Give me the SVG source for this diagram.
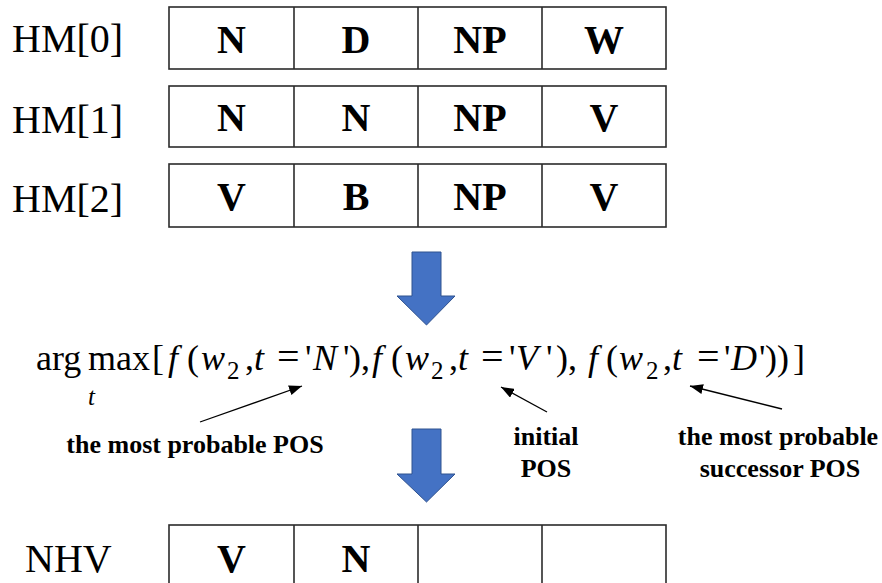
<svg xmlns="http://www.w3.org/2000/svg" width="882" height="583" viewBox="0 0 882 583">
  <style>
    .cell { fill: #ffffff; stroke: #2b2b2b; stroke-width: 1.6; }
    .div { stroke: #2b2b2b; stroke-width: 1.6; }
    .row-label { font-family: "Liberation Serif", "Times New Roman", serif; font-size: 40px; fill: #000; }
    .tag { font-family: "Liberation Serif", "Times New Roman", serif; font-size: 40px; font-weight: bold; fill: #000; text-anchor: middle; }
    .math { font-family: "Liberation Serif", "Times New Roman", serif; font-size: 36px; fill: #000; }
    .it { font-style: italic; }
    .sub { font-size: 25px; }
    .eq { font-size: 40px; }
    .note { font-family: "Liberation Serif", "Times New Roman", serif; font-size: 26px; font-weight: bold; fill: #000; text-anchor: middle; }
    .big-arrow { fill: #4472c4; stroke: #2f528f; stroke-width: 1; }
    .pointer { stroke: #000; stroke-width: 1.3; fill: none; marker-end: url(#head); }
  </style>
  <defs>
    <marker id="head" markerUnits="userSpaceOnUse" markerWidth="14" markerHeight="10" refX="13" refY="5" orient="auto">
      <path d="M0,0 L13,5 L0,10 Z" fill="#000"/>
    </marker>
  </defs>

  <rect width="882" height="583" fill="#ffffff"/>

  <!-- HM[0] -->
  <g id="hm0">
    <text class="row-label" x="12" y="52">HM[0]</text>
    <rect class="cell" x="169" y="7" width="497" height="62"/>
    <line class="div" x1="294" y1="7" x2="294" y2="69"/>
    <line class="div" x1="418" y1="7" x2="418" y2="69"/>
    <line class="div" x1="542" y1="7" x2="542" y2="69"/>
    <text class="tag" x="231.5" y="53">N</text>
    <text class="tag" x="356" y="53">D</text>
    <text class="tag" x="480" y="53">NP</text>
    <text class="tag" x="604" y="53">W</text>
  </g>

  <!-- HM[1] -->
  <g id="hm1">
    <text class="row-label" x="12" y="133">HM[1]</text>
    <rect class="cell" x="169" y="86" width="497" height="61"/>
    <line class="div" x1="294" y1="86" x2="294" y2="147"/>
    <line class="div" x1="418" y1="86" x2="418" y2="147"/>
    <line class="div" x1="542" y1="86" x2="542" y2="147"/>
    <text class="tag" x="231.5" y="131">N</text>
    <text class="tag" x="356" y="131">N</text>
    <text class="tag" x="480" y="131">NP</text>
    <text class="tag" x="604" y="131">V</text>
  </g>

  <!-- HM[2] -->
  <g id="hm2">
    <text class="row-label" x="12" y="212">HM[2]</text>
    <rect class="cell" x="169" y="164" width="497" height="63"/>
    <line class="div" x1="294" y1="164" x2="294" y2="227"/>
    <line class="div" x1="418" y1="164" x2="418" y2="227"/>
    <line class="div" x1="542" y1="164" x2="542" y2="227"/>
    <text class="tag" x="231.5" y="210">V</text>
    <text class="tag" x="356" y="210">B</text>
    <text class="tag" x="480" y="210">NP</text>
    <text class="tag" x="604" y="210">V</text>
  </g>

  <!-- argmax expression, glyphs placed one by one -->
  <g id="formula">
    <text class="math" y="370">
      <tspan x="36">arg</tspan>
      <tspan x="88">max</tspan>
      <tspan x="152">[</tspan>
      <tspan x="168" class="it">f</tspan>
      <tspan x="187">(</tspan>
      <tspan x="201" class="it">w</tspan>
      <tspan x="227" y="379" class="sub">2</tspan>
      <tspan x="245" y="370">,</tspan>
      <tspan x="254" class="it">t</tspan>
      <tspan x="277" class="eq">=</tspan>
      <tspan x="305">'</tspan>
      <tspan x="313" class="it">N</tspan>
      <tspan x="343">'</tspan>
      <tspan x="349">)</tspan>
      <tspan x="361">,</tspan>
      <tspan x="372" class="it">f</tspan>
      <tspan x="391">(</tspan>
      <tspan x="405" class="it">w</tspan>
      <tspan x="431" y="379" class="sub">2</tspan>
      <tspan x="449" y="370">,</tspan>
      <tspan x="458" class="it">t</tspan>
      <tspan x="481" class="eq">=</tspan>
      <tspan x="509">'</tspan>
      <tspan x="516" class="it">V</tspan>
      <tspan x="546">'</tspan>
      <tspan x="556">)</tspan>
      <tspan x="568">,</tspan>
      <tspan x="588" class="it">f</tspan>
      <tspan x="606">(</tspan>
      <tspan x="619" class="it">w</tspan>
      <tspan x="646" y="379" class="sub">2</tspan>
      <tspan x="663" y="370">,</tspan>
      <tspan x="672" class="it">t</tspan>
      <tspan x="697" class="eq">=</tspan>
      <tspan x="724">'</tspan>
      <tspan x="731" class="it">D</tspan>
      <tspan x="759">'</tspan>
      <tspan x="765">)</tspan>
      <tspan x="777">)</tspan>
      <tspan x="793">]</tspan>
    </text>
    <text class="math it sub" x="88" y="405">t</text>
  </g>

  <!-- annotations -->
  <g id="note-most-probable">
    <text class="note" x="195" y="453">the most probable POS</text>
  </g>
  <g id="note-initial">
    <text class="note" x="546" y="445">initial</text>
    <text class="note" x="546" y="477">POS</text>
  </g>
  <g id="note-successor">
    <text class="note" x="778" y="445">the most probable</text>
    <text class="note" x="780" y="477">successor POS</text>
  </g>

  <!-- NHV -->
  <g id="nhv">
    <text class="row-label" x="25" y="572">NHV</text>
    <rect class="cell" x="169" y="525" width="497" height="64"/>
    <line class="div" x1="294" y1="525" x2="294" y2="589"/>
    <line class="div" x1="418" y1="525" x2="418" y2="589"/>
    <line class="div" x1="542" y1="525" x2="542" y2="589"/>
    <text class="tag" x="231.5" y="572">V</text>
    <text class="tag" x="356" y="572">N</text>
  </g>

  <!-- connectors -->
  <g id="connectors">
    <path class="big-arrow" d="M412,252 H441 V296 H455 L426.5,325 L397,296 H412 Z"/>
    <path class="big-arrow" d="M412,429 H441 V474 H455 L426.5,502 L397,474 H412 Z"/>
    <line class="pointer" x1="200" y1="422" x2="302" y2="386"/>
    <line class="pointer" x1="547" y1="412" x2="501" y2="387"/>
    <line class="pointer" x1="782" y1="409" x2="690" y2="386"/>
  </g>
</svg>
